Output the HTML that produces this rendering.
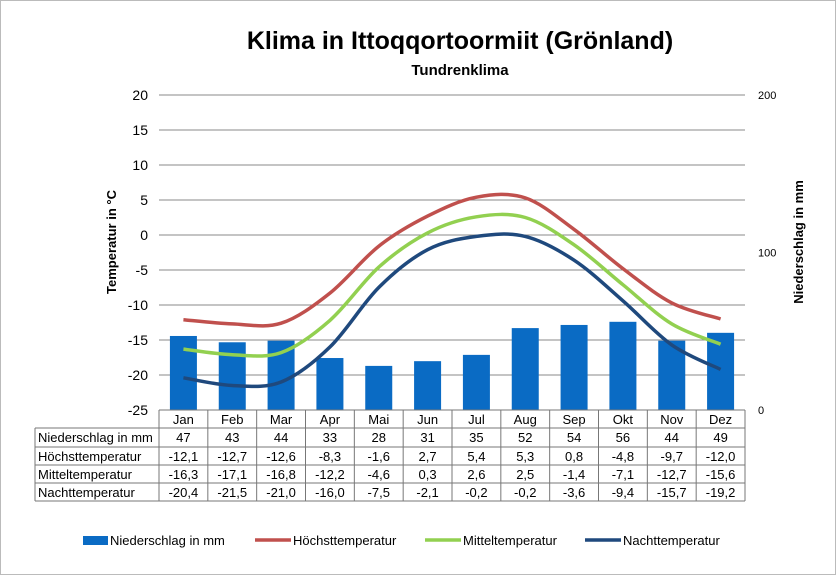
<!DOCTYPE html>
<html><head><meta charset="utf-8"><style>
body{margin:0;background:#fff;}
svg{display:block;font-family:"Liberation Sans",Arial,sans-serif;}
</style></head><body>
<svg id="c" width="836" height="575" viewBox="0 0 836 575">
<rect x="0.5" y="0.5" width="835" height="574" fill="#fff" stroke="#bbb"/>
<text x="460" y="49" font-size="25" font-weight="bold" text-anchor="middle">Klima in Ittoqqortoormiit (Grönland)</text>
<text x="460" y="75" font-size="15" font-weight="bold" text-anchor="middle">Tundrenklima</text>
<text transform="translate(116,242) rotate(-90)" font-size="13" font-weight="bold" text-anchor="middle">Temperatur in °C</text>
<text transform="translate(803,242) rotate(-90)" font-size="13" font-weight="bold" text-anchor="middle">Niederschlag in mm</text>
<g id="grid"></g><g id="bars"></g><g id="lines"></g><g id="axes"></g><g id="table"></g><g id="legend"></g>
</svg>
<script>
const months=["Jan","Feb","Mar","Apr","Mai","Jun","Jul","Aug","Sep","Okt","Nov","Dez"];
const precip=[47,43,44,33,28,31,35,52,54,56,44,49];
const tMax=[-12.1,-12.7,-12.6,-8.3,-1.6,2.7,5.4,5.3,0.8,-4.8,-9.7,-12.0];
const tMean=[-16.3,-17.1,-16.8,-12.2,-4.6,0.3,2.6,2.5,-1.4,-7.1,-12.7,-15.6];
const tMin=[-20.4,-21.5,-21.0,-16.0,-7.5,-2.1,-0.2,-0.2,-3.6,-9.4,-15.7,-19.2];
const tTicks=[20,15,10,5,0,-5,-10,-15,-20,-25];
const pTicks=[200,100,0];
const NS="http://www.w3.org/2000/svg";
const L=159,R=745,T=95,B=410,cw=(R-L)/12;
const yT=v=>B-(v+25)*(B-T)/45;
const yP=v=>B-v*(B-T)/200;
const xM=i=>L+cw*(i+0.5);
function mk(tag,attrs,parent,text){const e=document.createElementNS(NS,tag);for(const k in attrs)e.setAttribute(k,attrs[k]);if(text!==undefined)e.textContent=text;document.getElementById(parent).appendChild(e);return e;}
tTicks.forEach(v=>{
 const g=mk("line",{x1:L,x2:R,y1:yT(v),y2:yT(v),stroke:"#888","stroke-width":1},"grid");
 
 
 const t=mk("text",{x:148,y:yT(v)+5,"font-size":14,"text-anchor":"end"},"axes",String(v));
 
 
});
pTicks.forEach(v=>{
 const t=mk("text",{x:758,y:yP(v)+4,"font-size":11},"axes",String(v));
 
 
});
precip.forEach((v,i)=>{
 const r=mk("rect",{x:xM(i)-13.5,y:yP(v),width:27,height:B-yP(v),fill:"#0a6bc4"},"bars");
 
 
});
function smooth(vals){
 const p=vals.map((v,i)=>[xM(i),yT(v)]);
 let d="M"+p[0][0]+","+p[0][1];
 for(let i=0;i<p.length-1;i++){
  const p0=p[i-1]||p[i],p1=p[i],p2=p[i+1],p3=p[i+2]||p2;
  const c1=[p1[0]+(p2[0]-p0[0])/6,p1[1]+(p2[1]-p0[1])/6];
  const c2=[p2[0]-(p3[0]-p1[0])/6,p2[1]-(p3[1]-p1[1])/6];
  d+=" C"+c1+" "+c2+" "+p2;
 }
 return d;
}
[[tMax,"#c0504d","line-hoechsttemperatur"],[tMean,"#92d050","line-mitteltemperatur"],[tMin,"#1f497d","line-nachttemperatur"]].forEach(([s,c,n])=>{
 const p=mk("path",{d:smooth(s),fill:"none",stroke:c,"stroke-width":3.5},"lines");
 
 
});
const rowH=[410,428,447,465,483,501];
const TL=35;
const tbl=[["Niederschlag in mm",precip.map(String)],["Höchsttemperatur",tMax.map(v=>v.toFixed(1).replace('.',','))],["Mitteltemperatur",tMean.map(v=>v.toFixed(1).replace('.',','))],["Nachttemperatur",tMin.map(v=>v.toFixed(1).replace('.',','))]];
const gl=(x1,y1,x2,y2)=>{const l=mk("line",{x1,y1,x2,y2,stroke:"#777","stroke-width":1},"table");};
for(let r=1;r<=5;r++){gl(TL,rowH[r],R,rowH[r]);}
gl(L,B,R,B);
for(let i=0;i<=12;i++)gl(L+cw*i,B,L+cw*i,501);
gl(TL,428,TL,501);
months.forEach((m,i)=>{const t=mk("text",{x:xM(i),y:424,"font-size":13,"text-anchor":"middle"},"table",m);});
tbl.forEach(([lab,vals],r)=>{
 const y=rowH[r+1]+14;
 const t=mk("text",{x:TL+3,y,"font-size":13},"table",lab);
 
 
 vals.forEach((v,i)=>{const c=mk("text",{x:xM(i),y,"font-size":13,"text-anchor":"middle"},"table",v);});
});
const leg=[["Niederschlag in mm","#0a6bc4",83,true],["Höchsttemperatur","#c0504d",255,false],["Mitteltemperatur","#92d050",425,false],["Nachttemperatur","#1f497d",585,false]];
leg.forEach(([n,c,x,bar])=>{
 const sym=bar?mk("rect",{x:x,y:536,width:25,height:9,fill:c},"legend"):mk("line",{x1:x,x2:x+36,y1:540,y2:540,stroke:c,"stroke-width":3.5},"legend");
 
 
 const t=mk("text",{x:x+(bar?27:38),y:545,"font-size":13},"legend",n);
 
 
});
</script>
</body></html>
